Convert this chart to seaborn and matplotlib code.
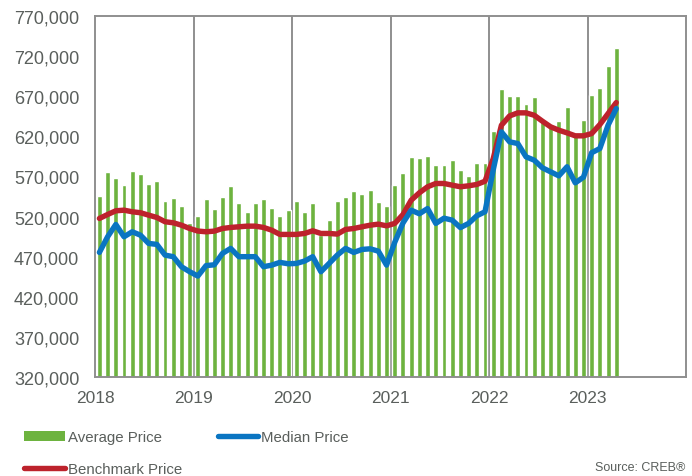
import numpy as np
import pandas as pd
import matplotlib
matplotlib.use('Agg')
import matplotlib.pyplot as plt
import matplotlib.ticker as mticker
from matplotlib.patches import Patch
from matplotlib.lines import Line2D
import seaborn as sns

# ── Data (monthly, Jan 2018 - Apr 2023, in $) ────────────────────────────
years = ['2018', '2019', '2020', '2021', '2022', '2023']

average_price = [
    545.9, 575.7, 568.6, 559.1, 577.3, 573.2, 560.8, 563.7, 539.2, 543.4, 533.0, 511.5,
    521.0, 541.3, 528.9, 545.0, 557.5, 536.3, 525.1, 536.7, 542.5, 531.0, 520.5, 527.6,
    540.0, 526.0, 536.3, 497.0, 516.1, 539.7, 544.6, 551.6, 547.5, 553.4, 537.6, 532.6,
    559.6, 574.0, 594.7, 593.5, 595.6, 583.6, 584.4, 590.6, 578.2, 569.9, 586.9, 586.9,
    626.2, 678.9, 670.6, 669.7, 659.8, 668.5, 637.9, 633.7, 639.5, 656.0, 620.0, 640.7,
    671.5, 680.2, 707.5, 730.3,
]
median_price = [
    475.4, 494.9, 510.2, 494.9, 501.1, 496.9, 486.6, 485.4, 472.1, 470.1, 457.6, 451.4,
    446.0, 459.0, 460.0, 474.2, 480.4, 470.1, 470.1, 470.1, 457.6, 459.6, 463.0, 461.3,
    461.7, 464.6, 470.1, 451.4, 461.7, 472.1, 480.4, 475.4, 479.1, 479.9, 477.0, 459.6,
    488.0, 512.0, 528.0, 523.5, 530.0, 511.5, 518.0, 515.6, 506.3, 511.5, 521.0, 526.0,
    578.0, 625.4, 613.0, 610.9, 594.4, 590.2, 580.7, 575.7, 570.7, 582.0, 562.0, 569.0,
    599.5, 604.7, 633.7, 654.4,
]
benchmark_price = [
    517.7, 522.6, 527.2, 528.0, 526.0, 524.8, 521.8, 518.9, 513.6, 512.3, 509.3, 505.2,
    502.0, 501.1, 501.9, 505.2, 506.5, 507.3, 508.1, 508.1, 506.5, 503.1, 497.8, 497.8,
    497.8, 499.0, 502.3, 499.0, 499.0, 498.2, 504.0, 505.2, 507.3, 509.3, 510.6, 508.5,
    511.5, 522.6, 540.4, 549.6, 557.1, 561.2, 561.2, 559.1, 557.1, 558.3, 560.0, 564.0,
    592.0, 633.7, 645.3, 649.1, 649.1, 646.1, 638.7, 631.7, 627.5, 624.2, 620.5, 620.5,
    623.3, 634.5, 648.2, 661.9,
]

df = pd.DataFrame({
    'month': np.arange(len(average_price)) + 0.5,
    'average': np.array(average_price) * 1000,
    'median': np.array(median_price) * 1000,
    'benchmark': np.array(benchmark_price) * 1000,
})

# ── Style ────────────────────────────────────────────────────────────────
GREEN = '#6db33f'
BLUE = '#0a75c2'
RED = '#bd222c'
GRID = '#8f8f8f'
TEXT = '#5a5f5c'
LW = 3.9

sns.set_style('white')
plt.rcParams['font.family'] = ['Liberation Sans', 'DejaVu Sans']

fig = plt.figure(figsize=(6.92, 4.77), dpi=100)
ax = fig.add_axes([95.3 / 692, 1 - 378.3 / 477, (686 - 95.3) / 692, (378.3 - 16.7) / 477])

sns.barplot(data=df, x='month', y='average', native_scale=True, width=0.6,
            color=GREEN, saturation=1, ax=ax, zorder=2)
sns.lineplot(data=df, x='month', y='benchmark', color=RED, linewidth=LW,
             ax=ax, zorder=3, solid_capstyle='round')
sns.lineplot(data=df, x='month', y='median', color=BLUE, linewidth=LW,
             ax=ax, zorder=4, solid_capstyle='round')

ax.set_xlim(0, 72)
ax.set_ylim(320000, 770000)
ax.set_xticks(np.arange(0, 72, 12))
ax.set_xticklabels(years)
ax.set_yticks(np.arange(320000, 770001, 50000))
ax.yaxis.set_major_formatter(mticker.FuncFormatter(lambda v, _: f'{v:,.0f}'))
ax.set_xlabel('')
ax.set_ylabel('')

for m in range(12, 72, 12):
    ax.axvline(m, color=GRID, linewidth=1.4, zorder=1)
for side in ['left', 'right', 'top', 'bottom']:
    ax.spines[side].set_visible(True)
    ax.spines[side].set_color(GRID)
    ax.spines[side].set_linewidth(1.4)

ax.tick_params(axis='y', length=0, pad=11.5, labelsize=13, labelcolor=TEXT)
ax.tick_params(axis='x', length=0, pad=9, labelsize=12.5, labelcolor=TEXT)

# ── Legend & source ──────────────────────────────────────────────────────
handles = [
    Patch(facecolor=GREEN, edgecolor='none', label='Average Price'),
    Line2D([], [], color=RED, linewidth=LW, solid_capstyle='round', label='Benchmark Price'),
    Line2D([], [], color=BLUE, linewidth=LW, solid_capstyle='round', label='Median Price'),
]
fig.legend(handles=handles, loc='upper left', bbox_to_anchor=(24 / 692, 1 - 431 / 477),
           ncol=2, frameon=False, fontsize=10.8, labelcolor=TEXT,
           handlelength=2.7, handletextpad=0.2, columnspacing=2.4,
           labelspacing=1.2, borderpad=0, borderaxespad=0)

fig.text(685 / 692, 1 - 468 / 477, 'Source: CREB®', ha='right', va='center',
         fontsize=9, color=TEXT)

plt.savefig('out.png', dpi=100)
plt.close()
